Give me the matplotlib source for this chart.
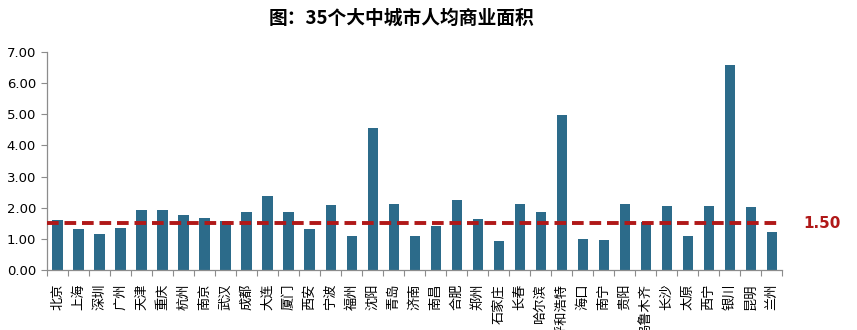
import matplotlib as mpl

mpl.use("Agg")
import matplotlib.pyplot as plt
import numpy as np

plt.rcParams["font.family"] = ["Noto Sans CJK SC", "DejaVu Sans"]

cities = [
    "北京", "上海", "深圳", "广州", "天津", "重庆", "杭州", "南京", "武汉", "成都",
    "大连", "厦门", "西安", "宁波", "福州", "沈阳", "青岛", "济南", "南昌", "合肥",
    "郑州", "石家庄", "长春", "哈尔滨", "呼和浩特", "海口", "南宁", "贵阳", "乌鲁木齐", "长沙",
    "太原", "西宁", "银川", "昆明", "兰州",
]
area_per_capita = [
    1.59, 1.30, 1.15, 1.36, 1.93, 1.93, 1.78, 1.67, 1.57, 1.85,
    2.39, 1.85, 1.33, 2.08, 1.08, 4.57, 2.12, 1.08, 1.41, 2.24,
    1.63, 0.93, 2.12, 1.86, 4.98, 1.01, 0.97, 2.12, 1.55, 2.04,
    1.08, 2.04, 6.58, 2.01, 1.22,
]
average = 1.50
yticks = [0, 1, 2, 3, 4, 5, 6, 7]

bar_color = "#2C6B8A"
line_color = "#B01818"
axis_grey = "#8C8C8C"

fig = plt.figure(figsize=(8.57, 3.30), dpi=100)
ax = fig.add_axes([0.055, 0.182, 0.858, 0.660])

x = np.arange(len(cities))
ax.bar(x, area_per_capita, width=0.5, color=bar_color, zorder=2)
ax.axhline(average, color=line_color, lw=2.8, ls=(0, (3.0, 1.5)), zorder=3, clip_on=False)
ax.text(1.028, average, f"{average:.2f}", transform=ax.get_yaxis_transform(),
        color=line_color, fontsize=11, fontweight="bold", va="center", ha="left",
        family="DejaVu Sans")

ax.set_xlim(-0.5, len(cities) - 0.5)
ax.set_ylim(0, 7)
ax.set_yticks(yticks)
ax.set_yticklabels([f"{v:.2f}" for v in yticks], family="DejaVu Sans", fontsize=9.5)

# category labels sit on the major ticks, the small marks go between categories
ax.set_xticks(x)
ax.set_xticklabels(cities, rotation=90, fontsize=9.5)
ax.tick_params(axis="x", which="major", length=0, pad=10)
ax.set_xticks(np.arange(-0.5, len(cities)), minor=True)
ax.tick_params(axis="x", which="minor", length=4, color=axis_grey, width=0.8)
ax.tick_params(axis="y", length=4, color=axis_grey, width=0.8, pad=4)

for side in ("top", "right"):
    ax.spines[side].set_visible(False)
for side in ("left", "bottom"):
    ax.spines[side].set_color(axis_grey)
    ax.spines[side].set_linewidth(0.9)

fig.suptitle("图：35个大中城市人均商业面积", x=0.468, y=0.975, fontsize=13.5,
             fontweight="bold", va="top")

fig.savefig("out.png", dpi=100)
